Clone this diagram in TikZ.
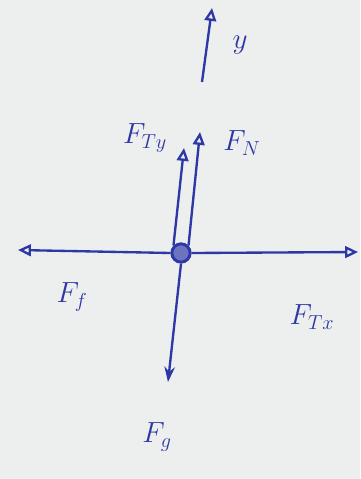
\documentclass[tikz,border=0pt]{standalone}
\usetikzlibrary{arrows.meta}
\definecolor{ink}{RGB}{45,55,165}
\definecolor{paper}{RGB}{236,239,237}
\begin{document}
\begin{tikzpicture}[x=0.03cm,y=-0.03cm,line width=2pt,
  f/.style={draw=ink,-{Triangle[open,length=11pt,width=10pt]}},
  l/.style={text=ink,font=\fontsize{27}{29}\selectfont}]
\fill[paper] (0,0) rectangle (360,479);
\node[circle,draw=ink,line width=2.5pt,fill=ink!70,minimum size=0.55cm,inner sep=0] (o) at (181,253) {};
\coordinate (l1) at (18,250);
\coordinate (r1) at (358,252);
\coordinate (d1) at (168,382);
\coordinate (t1) at (184,148);
\coordinate (n1) at (200,132);
\coordinate (y0) at (202,82);
\coordinate (y1) at (212,8);
\draw[f] (o.west)--(l1);
\draw[f] (o.east)--(r1);
\draw[draw=ink,-{Stealth[length=13pt,width=9pt]}] (o.south)--(d1);
\draw[f] (o.north west)--(t1);
\draw[f] (o.north east)--(n1);
\draw[draw=ink,-{Triangle[open,length=11pt,width=10pt]}] (y0)--(y1);
\node[l] (ly) at (240,45) {$y$};
\node[l] (lt) at (145,138) {$F_{Ty}$};
\node[l] (ln) at (242,143) {$F_N$};
\node[l] (lf) at (72,297) {$F_f$};
\node[l] (lx) at (312,317) {$F_{Tx}$};
\node[l] (lg) at (157,437) {$F_g$};
\end{tikzpicture}
\end{document}
